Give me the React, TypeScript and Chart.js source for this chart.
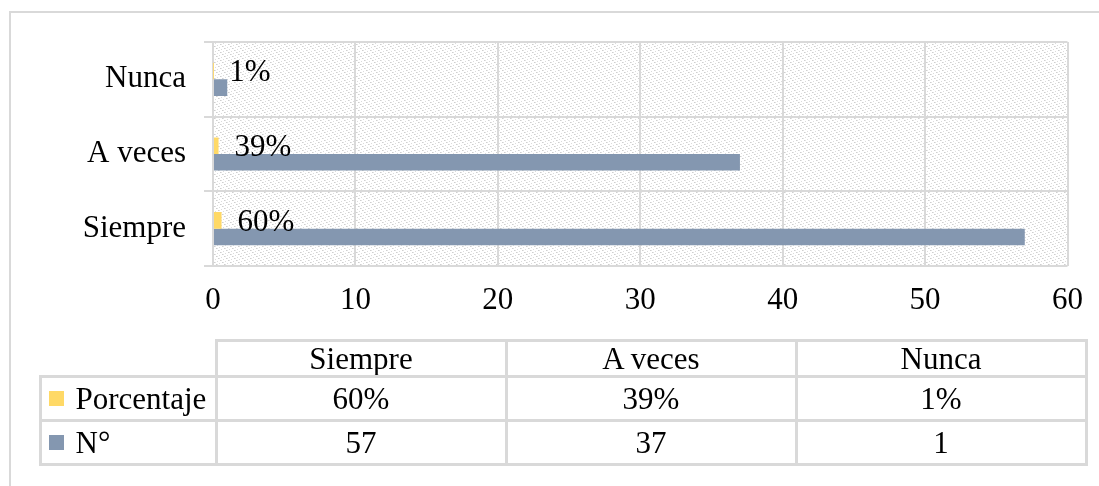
import React, { useEffect, useRef } from "react";
import { Chart, registerables } from "chart.js";

Chart.register(...registerables);

const categories = ["Siempre", "A veces", "Nunca"];
const seriesNames = ["Porcentaje", "N°"];
const porcentaje = [0.6, 0.39, 0.01];
const numero = [57, 37, 1];
const xMin = 0;
const xMax = 60;
const xStep = 10;

const seriesColors = ["#FFD966", "#8497B0"];
const gridColor = "#D9D9D9";
const FONT_FAMILY = "'Liberation Serif', 'Times New Roman', serif";
const FONT_SIZE = 31;

const fmtPct = (v: number) => `${Math.round(v * 100)}%`;

function makePattern(ctx: CanvasRenderingContext2D): CanvasPattern | string {
  const c = document.createElement("canvas");
  c.width = 8;
  c.height = 8;
  const g = c.getContext("2d");
  if (!g) return "#f0f0f0";
  g.fillStyle = "#ffffff";
  g.fillRect(0, 0, 8, 8);
  for (let i = 0; i < 8; i += 2) {
    g.fillStyle = "#cfcfcf";
    g.fillRect(i, i, 1, 1);
    g.fillStyle = "#e2e2e2";
    g.fillRect(i + 1, i, 1, 1);
    g.fillStyle = "#dcdcdc";
    g.fillRect((i + 5) % 8, (i + 1) % 8, 1, 1);
  }
  const p = ctx.createPattern(c, "repeat");
  return p || "#f0f0f0";
}

export default function App() {
  const canvasRef = useRef<HTMLCanvasElement | null>(null);

  useEffect(() => {
    const canvas = canvasRef.current;
    if (!canvas) return;
    const ctx2d = canvas.getContext("2d");
    if (!ctx2d) return;
    const pattern = makePattern(ctx2d);

    const bgPlugin = {
      id: "plotBg",
      beforeDraw(chart: any) {
        const { ctx, chartArea: a } = chart;
        ctx.save();
        ctx.fillStyle = pattern;
        ctx.fillRect(a.left, a.top, a.right - a.left, a.bottom - a.top);
        ctx.restore();
      },
    };

    const labelPlugin = {
      id: "pctLabels",
      afterDatasetsDraw(chart: any) {
        const { ctx } = chart;
        const meta = chart.getDatasetMeta(0);
        ctx.save();
        ctx.font = `${FONT_SIZE}px ${FONT_FAMILY}`;
        ctx.fillStyle = "#000";
        ctx.textAlign = "left";
        ctx.textBaseline = "middle";
        meta.data.forEach((bar: any, i: number) => {
          ctx.fillText(fmtPct(porcentaje[i]), bar.x + 16, bar.y + 2);
        });
        ctx.restore();
      },
    };

    const font = { family: FONT_FAMILY, size: FONT_SIZE };

    const chart = new Chart(canvas, {
      type: "bar",
      data: {
        labels: categories,
        datasets: [
          {
            label: seriesNames[0],
            data: porcentaje,
            backgroundColor: seriesColors[0],
            categoryPercentage: 0.445,
            barPercentage: 1,
          },
          {
            label: seriesNames[1],
            data: numero,
            backgroundColor: seriesColors[1],
            categoryPercentage: 0.445,
            barPercentage: 1,
          },
        ],
      },
      options: {
        animation: false,
        responsive: false,
        indexAxis: "y",
        layout: { padding: { top: 42, right: 31, left: 0, bottom: 0 } },
        plugins: {
          legend: { display: false },
          tooltip: { enabled: false },
        },
        scales: {
          x: {
            type: "linear",
            min: xMin,
            max: xMax,
            ticks: { stepSize: xStep, color: "#000", font, padding: 16 },
            grid: { color: gridColor, lineWidth: 2, drawTicks: false },
            border: { display: false },
            afterFit: (s: any) => {
              s.height = 220;
            },
          },
          y: {
            type: "category",
            reverse: true,
            ticks: { color: "#000", font, padding: 18 },
            grid: {
              color: gridColor,
              lineWidth: 2,
              drawTicks: true,
              tickLength: 9,
              offset: true,
            },
            border: { display: false },
            afterFit: (s: any) => {
              s.width = 213;
            },
          },
        },
      },
      plugins: [bgPlugin, labelPlugin],
    } as any);

    return () => {
      chart.destroy();
    };
  }, []);

  // table layout (positions only)
  const colX = [40, 216, 506, 796, 1086];
  const rowY = [340, 376, 420, 464];
  const bw = 3;

  const cellStyle = (x0: number, x1: number, y0: number, y1: number, align: "center" | "left"): React.CSSProperties => ({
    position: "absolute",
    left: x0 - bw / 2,
    top: y0 - bw / 2,
    width: x1 - x0 + bw,
    height: y1 - y0 + bw,
    boxSizing: "border-box",
    border: `${bw}px solid ${gridColor}`,
    display: "flex",
    alignItems: "center",
    justifyContent: align === "center" ? "center" : "flex-start",
    fontFamily: FONT_FAMILY,
    fontSize: FONT_SIZE,
    lineHeight: 1,
    color: "#000",
    whiteSpace: "nowrap",
  });

  const rows = [
    { name: seriesNames[0], color: seriesColors[0], values: porcentaje.map(fmtPct) },
    { name: seriesNames[1], color: seriesColors[1], values: numero.map((v) => String(v)) },
  ];

  return (
    <div
      style={{
        position: "absolute",
        left: 0,
        top: 0,
        width: 1099,
        height: 486,
        overflow: "hidden",
        background: "#fff",
      }}
    >
      <div
        style={{
          position: "absolute",
          left: 9,
          top: 11,
          width: 1200,
          height: 600,
          borderTop: `2px solid ${gridColor}`,
          borderLeft: `2px solid ${gridColor}`,
          boxSizing: "border-box",
        }}
      />
      <canvas
        ref={canvasRef}
        width={1099}
        height={486}
        style={{ position: "absolute", left: 0, top: 0, width: 1099, height: 486 }}
      />
      {categories.map((c, j) => (
        <div key={"h" + j} style={cellStyle(colX[j + 1], colX[j + 2], rowY[0], rowY[1], "center")}>
          {c}
        </div>
      ))}
      {rows.map((r, i) => (
        <React.Fragment key={"r" + i}>
          <div style={{ ...cellStyle(colX[0], colX[1], rowY[i + 1], rowY[i + 2], "left"), paddingLeft: 7 }}>
            <span
              style={{
                display: "inline-block",
                width: 15,
                height: 15,
                background: r.color,
                marginRight: 12,
                flex: "0 0 auto",
              }}
            />
            <span>{r.name}</span>
          </div>
          {r.values.map((v, j) => (
            <div key={"v" + i + "-" + j} style={cellStyle(colX[j + 1], colX[j + 2], rowY[i + 1], rowY[i + 2], "center")}>
              {v}
            </div>
          ))}
        </React.Fragment>
      ))}
    </div>
  );
}
